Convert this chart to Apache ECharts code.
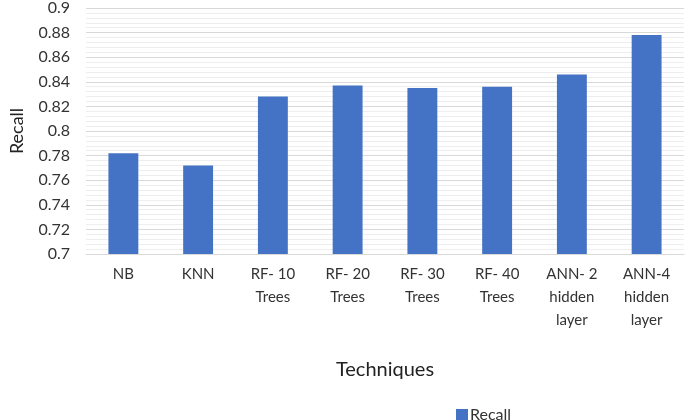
<!DOCTYPE html>
<html>
<head>
<meta charset="utf-8">
<script src="https://cdn.jsdelivr.net/npm/echarts@6/dist/echarts.min.js"></script>
<style>
  html, body { margin: 0; padding: 0; background: #fff; }
  #chart { width: 685px; height: 420px; }
</style>
</head>
<body>
<div id="chart"></div>
<script>
  // data
  var categories = ['NB', 'KNN', 'RF- 10\nTrees', 'RF- 20\nTrees', 'RF- 30\nTrees', 'RF- 40\nTrees', 'ANN- 2\nhidden\nlayer', 'ANN-4\nhidden\nlayer'];
  var recall = [0.782, 0.772, 0.828, 0.837, 0.835, 0.836, 0.846, 0.878];
  var yMin = 0.7, yMax = 0.9, yStep = 0.02;

  var chart = echarts.init(document.getElementById('chart'));
  var font = 'Lato, "Open Sans", sans-serif';
  chart.setOption({
    animation: false,
    textStyle: { fontFamily: font },
    grid: { left: 74, right: 1, top: 6, bottom: 166 },
    legend: {
      left: 451, top: 402,
      itemWidth: 12, itemHeight: 12, itemGap: 4,
      icon: 'rect',
      textStyle: { fontSize: 16, color: '#333', fontFamily: font, padding: [0, 0, 0, -3] },
      data: ['Recall']
    },
    xAxis: {
      type: 'category',
      data: categories,
      name: 'Techniques',
      nameLocation: 'middle',
      nameGap: 106,
      nameTextStyle: { fontSize: 20, color: '#222', fontFamily: font },
      axisLine: { show: true, lineStyle: { color: '#d9d9d9', width: 1 } },
      axisTick: { show: false },
      axisLabel: { fontSize: 15, color: '#333', lineHeight: 23, margin: 9, interval: 0, fontFamily: font }
    },
    yAxis: {
      type: 'value',
      min: yMin, max: yMax, interval: yStep,
      name: 'Recall',
      nameLocation: 'middle',
      nameGap: 60,
      nameTextStyle: { fontSize: 18, color: '#222', fontFamily: font },
      axisLine: { show: false },
      axisTick: { show: false },
      axisLabel: {
        fontSize: 16, color: '#333', margin: 16, fontFamily: font,
        formatter: function (v) { return String(+v.toFixed(2)); }
      },
      splitLine: { lineStyle: { color: '#d9d9d9', width: 1 } },
      minorTick: { show: false, splitNumber: 5 },
      minorSplitLine: { show: true, lineStyle: { color: '#eeeeee', width: 1 } }
    },
    series: [{
      name: 'Recall',
      type: 'bar',
      data: recall,
      barWidth: '40%',
      itemStyle: { color: '#4472C4' }
    }]
  });
</script>
</body>
</html>
